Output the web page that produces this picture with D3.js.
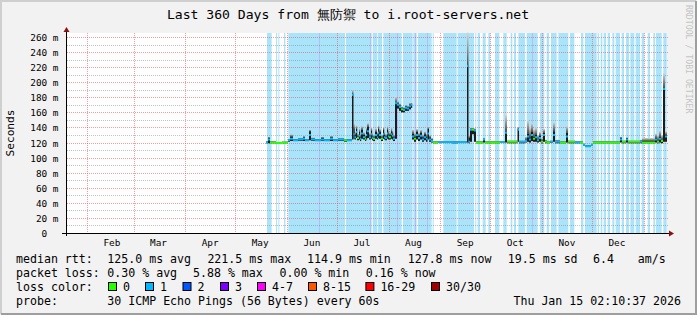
<!DOCTYPE html>
<html>
<head>
<meta charset="utf-8">
<script src="https://cdn.jsdelivr.net/npm/d3@7"></script>
<style>
  body { margin: 0; background: #f2f2f2; }
  svg { display: block; }
  text { font-family: "DejaVu Sans Mono", monospace; white-space: pre; }
</style>
</head>
<body>
<svg id="chart"></svg>
<script>
// ---- data ----
const titleText = "Last 360 Days from 無防禦 to i.root-servers.net";
const yTicks = [0, 20, 40, 60, 80, 100, 120, 140, 160, 180, 200, 220, 240, 260];

// loss background bands (days since start of the 360-day window)
const bandStart = [120.0, 125.4, 126.8, 130.2, 132.8, 167.4, 183.4, 186.6, 189.8, 201.6, 207.8, 210.6, 219.4,
  225.8, 234.4, 245.0, 246.4, 249.4, 252.8, 256.8, 261.8, 266.2, 268.2, 270.8, 275.8, 283.8, 287.8, 290.4,
  294.8, 301.8, 308.4, 310.8, 318.4, 320.2, 322.0, 324.4, 327.2, 329.2, 332.8, 335.4, 338.0, 341.2, 344.8,
  348.4, 351.8, 353.4, 357.8];
const bandEnd = [122.8, 126.0, 127.4, 131.0, 166.8, 182.8, 186.2, 189.0, 200.8, 207.4, 209.8, 218.8, 220.0,
  233.8, 244.2, 245.6, 247.8, 251.2, 254.0, 259.4, 263.8, 267.2, 269.4, 274.8, 282.4, 286.4, 289.2, 293.8,
  300.8, 304.4, 309.8, 317.8, 319.2, 321.2, 323.4, 325.8, 328.4, 331.8, 334.2, 337.2, 340.4, 343.8, 346.4,
  349.8, 352.8, 356.8, 359.8];
const bandDarkDays = [150.9, 181.5, 198.0, 208.8, 216.0, 279.0];

// samples: day, median rtt (ms), smoke core low/high, smoke top, lost pings
const sampleDay = [119.4, 120.6, 121.8, 125.4, 129.0, 132.6, 133.8, 135.6, 138.6, 141.6, 142.8, 145.2, 146.4,
  148.8, 152.4, 154.2, 157.8, 159.6, 162.6, 166.2, 168.0, 171.0, 171.9, 172.5, 173.4, 174.0, 175.2, 175.8,
  176.4, 177.6, 178.8, 179.4, 180.0, 181.2, 182.4, 183.0, 183.6, 184.8, 186.0, 186.6, 187.2, 188.4, 189.6,
  190.2, 190.8, 192.0, 192.6, 193.2, 194.4, 195.0, 195.6,
  196.8, 198.0, 199.2, 200.4, 201.6, 202.8, 204.0, 205.2, 206.4, 207.0, 208.2, 209.4, 210.6, 211.8, 213.0,
  214.2, 215.4, 216.3, 217.2, 218.4, 219.6, 222.6, 231.0, 234.6, 240.0, 240.9, 241.8, 243.0, 244.2, 245.4,
  249.6, 250.8, 259.8, 262.8, 264.0, 270.3, 271.2, 274.8, 276.0, 277.2, 278.4, 279.6, 280.8, 282.0, 283.2,
  284.4, 285.6, 286.8, 288.0, 289.8, 291.6, 292.8, 295.8, 299.4, 300.6, 304.8, 307.8, 309.6, 310.8, 312.6,
  314.4, 315.6, 331.8, 333.0, 335.4, 336.6, 343.8, 345.0, 352.8, 354.0, 355.2, 356.4, 357.6, 358.8];
const medianMs = [120, 124, 120, 119.5, 120, 123, 125, 123, 124, 125, 123, 130, 124,
  123, 124, 123, 125, 123, 124, 123, 123, 183, 131, 127, 134, 126, 129, 125,
  132, 127, 125, 130, 135, 127, 131, 126, 125, 130, 127, 133, 130, 125, 131,
  127, 126, 132, 128, 127, 131, 129, 125,
  172, 170, 167, 164, 163, 166, 165, 168, 170, 128, 125, 130, 126, 129, 124,
  127, 125, 132, 124, 122, 120, 120.5, 120, 120.5, 221.5, 121, 137, 137, 136, 120,
  124, 120, 120.5, 133, 121, 137, 121, 122, 128, 124, 130, 125, 127, 123, 126,
  121, 130, 121, 120, 121, 130, 121, 120, 128, 121, 120, 120, 117, 115, 115,
  117, 120, 124, 121, 124, 121, 121, 120, 124, 121, 125, 122, 191, 128];
const smokeLo = [119, 119, 119, 119, 119, 121, 122, 122, 122, 122, 122, 123, 122,
  122, 122, 122, 122, 122, 122, 121, 122, 124, 125, 124, 126, 123, 124, 122,
  125, 124, 122, 124, 126, 124, 125, 123, 122, 125, 124, 126, 125, 122, 125,
  124, 123, 125, 124, 124, 125, 124, 122,
  125, 165, 162, 160, 160, 162, 162, 164, 166, 124, 121, 124, 122, 124, 121,
  123, 121, 124, 121, 120, 119, 119.5, 119, 119.5, 120, 119, 121, 131, 121, 119,
  120, 119, 119.5, 120, 119, 121, 119, 120, 121, 120, 122, 121, 121, 120, 121,
  119, 121, 119, 119, 119.5, 121, 119, 119, 120, 119, 119, 119, 116, 114.5, 114.5,
  116, 119, 120, 119, 120, 119, 119, 119, 120, 119, 120, 119, 121, 121];
const smokeHi = [121, 126, 121, 120.5, 121, 124, 128, 124, 125, 127, 124, 135, 125,
  124, 126, 124, 127, 124, 125, 124, 124, 184, 139, 130, 138, 128, 134, 127,
  137, 130, 127, 135, 141, 129, 136, 128, 127, 134, 130, 138, 134, 127, 137,
  130, 128, 137, 131, 130, 135, 132, 127,
  173, 172, 169, 166, 165, 168, 167, 170, 171, 132, 128, 134, 129, 133, 127,
  131, 128, 138, 127, 124, 121, 121, 121, 121, 223, 126, 138, 138, 137, 121,
  125, 121, 121, 134, 122, 138, 122, 124, 132, 127, 134, 128, 130, 125, 129,
  123, 133, 122, 121, 122, 135, 122, 121, 133, 122, 121, 121, 118, 116, 116,
  118, 121, 126, 122, 126, 122, 122, 122, 126, 123, 128, 124, 192, 130];
const smokeTop = [122, 128, 122, 121, 121.5, 125, 131, 125, 126, 129, 125, 137, 127,
  125, 128, 125, 129, 125, 126, 125, 125, 190, 145, 135, 143, 132, 139, 131,
  142, 134, 131, 140, 146, 133, 140, 132, 131, 139, 134, 143, 138, 131, 141,
  134, 132, 142, 136, 134, 140, 136, 131,
  181, 175, 172, 168, 167, 170, 169, 173, 173, 137, 133, 138, 133, 137, 131,
  135, 132, 141, 130, 126, 122, 122, 122, 122, 266, 130, 140, 140, 139, 122,
  126, 122, 122, 157, 123, 141, 123, 128, 150, 140, 146, 138, 140, 130, 134,
  126, 138, 124, 122, 123, 147, 124, 122, 142, 123, 122, 122, 119, 117, 117,
  119, 122, 128, 123, 127, 123, 124, 126, 132, 130, 136, 130, 212, 135];
const lossCount = [1, 1, 0, 0, 0, 1, 1, 1, 1, 1, 1, 1, 1,
  1, 1, 1, 1, 1, 1, 0, 1, 1, 1, 1, 1, 0, 1, 1,
  1, 1, 0, 1, 1, 1, 1, 1, 0, 1, 1, 1, 1, 0, 1,
  1, 1, 1, 1, 0, 1, 1, 1,
  1, 1, 1, 0, 1, 1, 1, 1, 1, 1, 0, 1, 1, 1, 1,
  1, 1, 1, 1, 1, 0, 1, 1, 1, 1, 1, 1, 0, 1, 0,
  1, 0, 1, 1, 0, 1, 1, 1, 1, 1, 1, 0, 1, 1, 1,
  0, 1, 0, 0, 1, 1, 1, 0, 1, 0, 1, 0, 1, 1, 1,
  1, 0, 1, 0, 1, 0, 1, 0, 1, 0, 1, 0, 1, 1];

// legend
const lossLabels = ["0", "1", "2", "3", "4-7", "8-15", "16-29", "30/30"];
const lossColors = ["#26ff00", "#00b8ff", "#0059ff", "#7e00ff", "#ff00ff", "#ff5500", "#ff0000", "#a10000"];
const rttStats = ["125.0 ms avg", "221.5 ms max", "114.9 ms min", "127.8 ms now", "19.5 ms sd", "6.4", "am/s"];
const lossStats = ["0.30 % avg", "5.88 % max", "0.00 % min", "0.16 % now"];
const probeText = "30 ICMP Echo Pings (56 Bytes) every 60s";
const stampText = "Thu Jan 15 02:10:37 2026";

// ---- layout ----
const W = 697, H = 315;
const plot = { left: 67, right: 667, top: 33, bottom: 233 };
const startTime = new Date(Date.UTC(2025, 0, 20, 2, 10, 37));
const endTime = new Date(Date.UTC(2026, 0, 15, 2, 10, 37));

const svg = d3.select("#chart").attr("width", W).attr("height", H);

const xTime = d3.scaleUtc().domain([startTime, endTime]).range([plot.left, plot.right]);
const xDay = d3.scaleLinear().domain([0, 360]).range([plot.left, plot.right]);
const y = d3.scaleLinear().domain([0, 265.3]).range([plot.bottom, plot.top]);

// canvas + shaded border
svg.append("rect").attr("width", W).attr("height", H).attr("fill", "#f2f2f2");
svg.append("path").attr("d", `M1,${H - 1} V1 H${W - 1}`).attr("fill", "none")
  .attr("stroke", "#cfcfcf").attr("stroke-width", 2);
svg.append("path").attr("d", `M1,${H - 1} H${W - 1} V1`).attr("fill", "none")
  .attr("stroke", "#9e9e9e").attr("stroke-width", 2);

// plot background
svg.append("rect")
  .attr("x", plot.left).attr("y", plot.top)
  .attr("width", plot.right - plot.left).attr("height", plot.bottom - plot.top)
  .attr("fill", "#ffffff");

// loss background bands
svg.append("g").selectAll("rect")
  .data(d3.zip(bandStart, bandEnd))
  .join("rect")
  .attr("x", d => xDay(d[0]))
  .attr("width", d => xDay(d[1]) - xDay(d[0]))
  .attr("y", plot.top)
  .attr("height", plot.bottom - plot.top)
  .attr("fill", "#aae4fa");

svg.append("g").selectAll("rect")
  .data(bandDarkDays)
  .join("rect")
  .attr("x", d => Math.round(xDay(d)))
  .attr("width", 1)
  .attr("y", plot.top)
  .attr("height", plot.bottom - plot.top)
  .attr("fill", "#b7bcf5");

// grid
const grid = svg.append("g").attr("shape-rendering", "crispEdges");
const minor = d3.range(10, 266, 20);
grid.selectAll(".minor")
  .data(minor)
  .join("line")
  .attr("x1", plot.left).attr("x2", plot.right + 2)
  .attr("y1", d => Math.round(y(d)) + 0.5).attr("y2", d => Math.round(y(d)) + 0.5)
  .attr("stroke", "rgba(120,120,120,0.45)")
  .attr("stroke-dasharray", "1,1");
grid.selectAll(".major")
  .data(yTicks.slice(1))
  .join("line")
  .attr("x1", plot.left).attr("x2", plot.right + 2)
  .attr("y1", d => Math.round(y(d)) + 0.5).attr("y2", d => Math.round(y(d)) + 0.5)
  .attr("stroke", "rgba(235,60,60,0.5)")
  .attr("stroke-dasharray", "1,1");

const months = d3.utcMonth.range(d3.utcMonth.ceil(startTime), endTime);
grid.selectAll(".vmajor")
  .data(months)
  .join("line")
  .attr("x1", d => Math.round(xTime(d)) + 0.5).attr("x2", d => Math.round(xTime(d)) + 0.5)
  .attr("y1", plot.top).attr("y2", plot.bottom)
  .attr("stroke", "rgba(235,60,60,0.5)")
  .attr("stroke-dasharray", "1,1");

// smoke
const tailGrad = svg.append("defs").append("linearGradient")
  .attr("id", "tail").attr("x1", 0).attr("y1", 1).attr("x2", 0).attr("y2", 0);
tailGrad.append("stop").attr("offset", "0%").attr("stop-color", "#4a4a4a");
tailGrad.append("stop").attr("offset", "100%").attr("stop-color", "#d8d8d8");

const samples = sampleDay.map((d, i) => ({
  d,
  next: i < sampleDay.length - 1 ? sampleDay[i + 1] : 360,
  med: medianMs[i], lo: smokeLo[i], hi: smokeHi[i], top: smokeTop[i], loss: lossCount[i]
}));

const sw = d => Math.max(xDay(d.next) - xDay(d.d), 1.2);

svg.append("g").selectAll("rect")
  .data(samples)
  .join("rect")
  .attr("x", d => xDay(d.d))
  .attr("width", sw)
  .attr("y", d => y(d.top))
  .attr("height", d => Math.max(y(d.hi) - y(d.top), 0))
  .attr("fill", "url(#tail)");

svg.append("g").selectAll("rect")
  .data(samples)
  .join("rect")
  .attr("x", d => xDay(d.d))
  .attr("width", sw)
  .attr("y", d => y(d.hi))
  .attr("height", d => Math.max(y(d.lo) - y(d.hi), 1))
  .attr("fill", "#1c1c1c");

// median, coloured by packet loss
svg.append("g").selectAll("line")
  .data(samples)
  .join("line")
  .attr("x1", d => xDay(d.d))
  .attr("x2", d => xDay(d.d) + sw(d))
  .attr("y1", d => y(d.med)).attr("y2", d => y(d.med))
  .attr("stroke", d => lossColors[d.loss])
  .attr("stroke-width", 2);

// axes
const axis = svg.append("g").attr("shape-rendering", "crispEdges");
axis.append("line")
  .attr("x1", plot.left - 5).attr("x2", plot.right + 2)
  .attr("y1", plot.bottom + 0.5).attr("y2", plot.bottom + 0.5)
  .attr("stroke", "#000");
axis.append("line")
  .attr("x1", plot.left - 0.5).attr("x2", plot.left - 0.5)
  .attr("y1", plot.bottom + 3).attr("y2", plot.top - 4)
  .attr("stroke", "#000");
svg.append("path")
  .attr("d", `M${plot.right + 2},${plot.bottom - 2.5} L${plot.right + 7},${plot.bottom + 0.5} L${plot.right + 2},${plot.bottom + 3.5}Z`)
  .attr("fill", "#8b1010");
svg.append("path")
  .attr("d", `M${plot.left - 3.5},${plot.top - 1} L${plot.left - 0.5},${plot.top - 6} L${plot.left + 2.5},${plot.top - 1}Z`)
  .attr("fill", "#8b1010");

// y labels
svg.append("g").selectAll("text")
  .data(yTicks)
  .join("text")
  .attr("x", 58.5)
  .attr("y", d => Math.round(y(d)) + 0.5)
  .attr("dy", "0.36em")
  .attr("text-anchor", "end")
  .style("font-size", "9.4px")
  .attr("fill", "#000")
  .text(d => d === 0 ? "0  " : `${d} m`);

// month labels, centred half a month after each month start
const monthLabels = months
  .map(m => new Date(+m + 15 * 86400000))
  .filter(m => m > startTime && m < endTime);
svg.append("g").selectAll("text")
  .data(monthLabels)
  .join("text")
  .attr("x", d => xTime(d))
  .attr("y", 246)
  .attr("text-anchor", "middle")
  .style("font-size", "9.4px")
  .attr("fill", "#000")
  .text(d3.utcFormat("%b"));

// title, vertical label, watermark
svg.append("text")
  .attr("x", 348).attr("y", 18.5)
  .attr("text-anchor", "middle")
  .style("font-size", "13.1px")
  .attr("fill", "#000")
  .text(titleText);

svg.append("text")
  .attr("transform", "translate(14,133) rotate(-90)")
  .attr("text-anchor", "middle")
  .style("font-size", "11.2px")
  .attr("fill", "#000")
  .text("Seconds");

svg.append("text")
  .attr("transform", "translate(686,5) rotate(90)")
  .style("font-size", "8.2px")
  .attr("fill", "#c4c4c4")
  .text("RRDTOOL / TOBI OETIKER");

// legend
const legend = svg.append("g").style("font-size", "11.6px").attr("fill", "#000");
const row = [263, 277, 291, 305];

legend.append("text").attr("x", 16).attr("y", row[0]).text("median rtt:");
const rttX = [107.3, 207.4, 307, 407.7, 507.8, 593, 637.7];
rttStats.forEach((t, i) => legend.append("text").attr("x", rttX[i]).attr("y", row[0]).text(t));

legend.append("text").attr("x", 16).attr("y", row[1]).text("packet loss:");
const lossX = [107.3, 193, 279.5, 365.8];
lossStats.forEach((t, i) => legend.append("text").attr("x", lossX[i]).attr("y", row[1]).text(t));

legend.append("text").attr("x", 16).attr("y", row[2]).text("loss color:");
const swatchX = [108, 145, 182.5, 220, 257, 308, 365.4, 431];
lossLabels.forEach((t, i) => {
  legend.append("rect")
    .attr("x", swatchX[i] + 0.5).attr("y", row[2] - 8.5)
    .attr("width", 8).attr("height", 8)
    .attr("fill", lossColors[i])
    .attr("stroke", "#000");
  legend.append("text").attr("x", swatchX[i] + 15).attr("y", row[2]).text(t);
});

legend.append("text").attr("x", 16).attr("y", row[3]).text("probe:");
legend.append("text").attr("x", 107.3).attr("y", row[3]).text(probeText);
legend.append("text").attr("x", 681).attr("y", row[3]).attr("text-anchor", "end").text(stampText);
</script>
</body>
</html>
